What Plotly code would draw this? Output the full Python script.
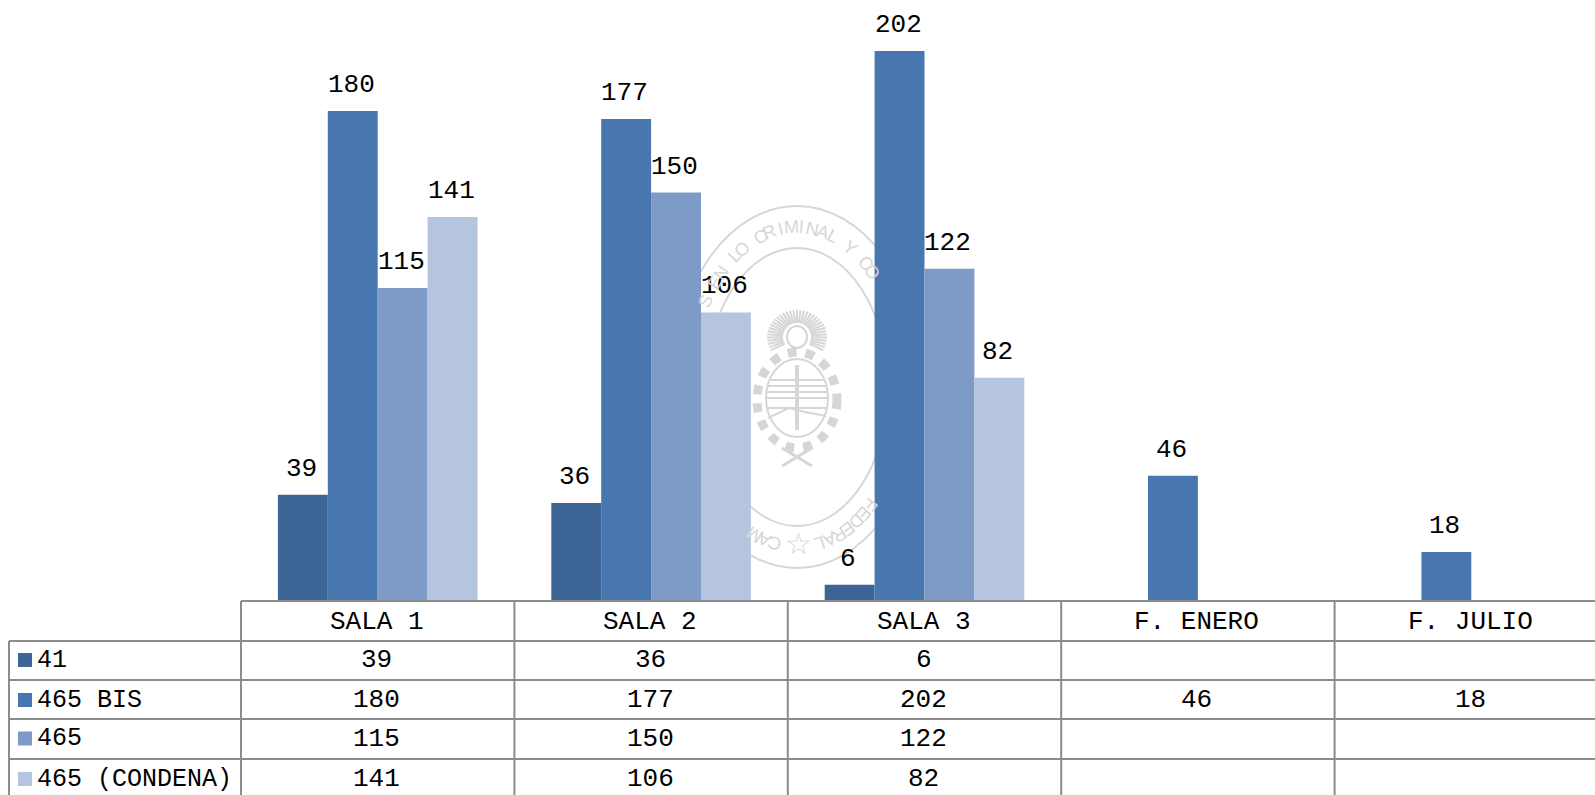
import math
import plotly.graph_objects as go

categories = ["SALA 1", "SALA 2", "SALA 3", "F. ENERO", "F. JULIO"]
series_names = ["41", "465 BIS", "465", "465 (CONDENA)"]
values_41 = [39, 36, 6, None, None]
values_465_bis = [180, 177, 202, 46, 18]
values_465 = [115, 150, 122, None, None]
values_465_condena = [141, 106, 82, None, None]
series_values = [values_41, values_465_bis, values_465, values_465_condena]
colors = ["#3D6595", "#4877B0", "#7E9BC8", "#B5C4DF"]

W, H = 1595, 795
PLOT_L, BASE_Y = 241, 601
COL_W = 273.4
BAR_W = 49.9
PX_PER_UNIT = 2.7228
FONT = "Liberation Mono"
GRID = "#8c8c8c"
SEAL = "#d6d6d6"

def px(x):
    return (x - PLOT_L) / (W - PLOT_L)

def py(y):
    return (BASE_Y - y) / BASE_Y

fig = go.Figure()
for name, vals, col in zip(series_names, series_values, colors):
    fig.add_trace(go.Bar(x=categories, y=vals, name=name, marker=dict(color=col, line=dict(width=0))))

shapes = []
annots = []

def line(x0, y0, x1, y1, color=GRID, width=2, layer="above"):
    shapes.append(dict(type="line", xref="paper", yref="paper", x0=px(x0), y0=py(y0), x1=px(x1), y1=py(y1),
                       line=dict(color=color, width=width), layer=layer))

def sline(x0, y0, x1, y1, width=2):
    line(x0, y0, x1, y1, color=SEAL, width=width, layer="below")

def ell(cx, cy, a, b, color=SEAL, width=2, dash="solid"):
    shapes.append(dict(type="circle", xref="paper", yref="paper", x0=px(cx - a), x1=px(cx + a),
                       y0=py(cy - b), y1=py(cy + b), line=dict(color=color, width=width, dash=dash), layer="below"))

def label(text, x, y, size=25, anchor="center", xref="paper", color="#000000", angle=0, family=FONT, xshift=0):
    annots.append(dict(text=text, x=x, y=py(y), xref=xref, yref="paper", showarrow=False, xanchor=anchor, xshift=xshift,
                       yanchor="middle", textangle=angle, font=dict(family=family, size=size, color=color)))

# ---- value labels above the bars
for j, vals in enumerate(series_values):
    for c, v in zip(categories, vals):
        if v is not None:
            annots.append(dict(text=str(v), x=c, y=v, xref="x", yref="y", showarrow=False, xanchor="center",
                               yanchor="middle", xshift=(j - 1.5) * BAR_W - 1.5, yshift=26,
                               font=dict(family=FONT, size=26, color="#000000")))

# ---- table
row_y = [601, 641, 680, 719, 759]
row_mid = [622, 660, 700, 738.5, 779]
col_x = [PLOT_L + i * COL_W for i in range(5)]
line(PLOT_L, row_y[0], W, row_y[0])
for y in row_y[1:]:
    line(9, y, W, y)
line(9, row_y[1], 9, H)
for x in col_x:
    line(x, row_y[0], x, H)

for c in categories:
    label(c, c, row_mid[0], xref="x", size=26, xshift=-1)
for r, (name, vals, col) in enumerate(zip(series_names, series_values, colors)):
    ym = row_mid[r + 1]
    shapes.append(dict(type="rect", xref="paper", yref="paper", x0=px(18), x1=px(32), y0=py(ym - 7), y1=py(ym + 7),
                       fillcolor=col, line=dict(width=0)))
    label(name, px(35.5), ym, anchor="left", size=25)
    for c, v in zip(categories, vals):
        if v is not None:
            label(str(v), c, ym, xref="x", size=26, xshift=-1)

# ---- watermark seal behind the bars
CX, CY = 797, 387
ell(CX, CY, 125, 181)
ell(CX, CY, 91, 139)
ell(CX, 400, 40, 48, width=9, dash="dot")
ell(CX, 398, 31, 39, width=2)
for yy, hw in [(380, 26), (386, 29), (392, 31), (398, 31), (408, 30)]:
    sline(CX - hw, yy, CX + hw, yy, width=2)
sline(CX - 29, 418, CX - 8, 408)
sline(CX - 8, 408, CX + 8, 412)
sline(CX + 8, 412, CX + 29, 416)
sline(CX, 365, CX, 430, width=4)
for k in range(-17, 18):
    t = math.radians(k * 7)
    sline(CX + 14 * math.sin(t), 337 - 14 * math.cos(t), CX + 30 * math.sin(t), 337 - 27 * math.cos(t), width=2)
ell(CX, 337, 10, 11)
sline(CX - 15, 448, CX + 15, 466, width=3)
sline(CX + 15, 448, CX - 15, 466, width=3)

hidden_rects = []
for i, c in enumerate(categories):
    for j, vals in enumerate(series_values):
        if vals[i] is not None:
            x0 = PLOT_L + COL_W * i + (COL_W - 4 * BAR_W) / 2 + BAR_W * j
            hidden_rects.append((x0, x0 + BAR_W, BASE_Y - vals[i] * PX_PER_UNIT))

def hidden(x, y):
    return any(x0 - 2 < x < x1 + 2 and y > top - 3 for x0, x1, top in hidden_rects)

def seal_text(text, start_theta, direction, a=108, b=160, step=10.6):
    th = start_theta
    for ch in text:
        x = CX + a * math.sin(th)
        y = CY - b * math.cos(th)
        dx, dy = a * math.cos(th), b * math.sin(th)
        if ch != " " and not hidden(x, y):
            label(ch, px(x), y, size=18, color=SEAL, family="Liberation Sans",
                  angle=math.degrees(math.atan2(dy, dx)))
        th += direction * step / math.hypot(dx, dy)

seal_text("MINAL Y CORRECCIONAL", math.radians(-3), 1)
seal_text("IRC OL NE SENOICALE", math.radians(-9), -1)
seal_text("FEDERAL"[::-1], math.radians(168), -1)
seal_text("CAMARA", math.radians(192), 1)
label("☆", px(CX + 1), 543, size=30, color=SEAL, family="DejaVu Sans")

fig.update_layout(
    width=W, height=H, autosize=False, barmode="group", bargap=1 - 4 * BAR_W / COL_W, bargroupgap=0,
    margin=dict(l=PLOT_L, r=0, t=0, b=H - BASE_Y, autoexpand=False),
    paper_bgcolor="white", plot_bgcolor="rgba(0,0,0,0)", showlegend=False,
    xaxis=dict(type="category", visible=False, range=[-0.5, (W - PLOT_L) / COL_W - 0.5]),
    yaxis=dict(visible=False, range=[0, BASE_Y / PX_PER_UNIT]),
    shapes=shapes, annotations=annots,
)
fig.write_html("out.html", config=dict(displayModeBar=False),
               post_script="document.body.style.margin='0';document.body.style.overflow='hidden';")
